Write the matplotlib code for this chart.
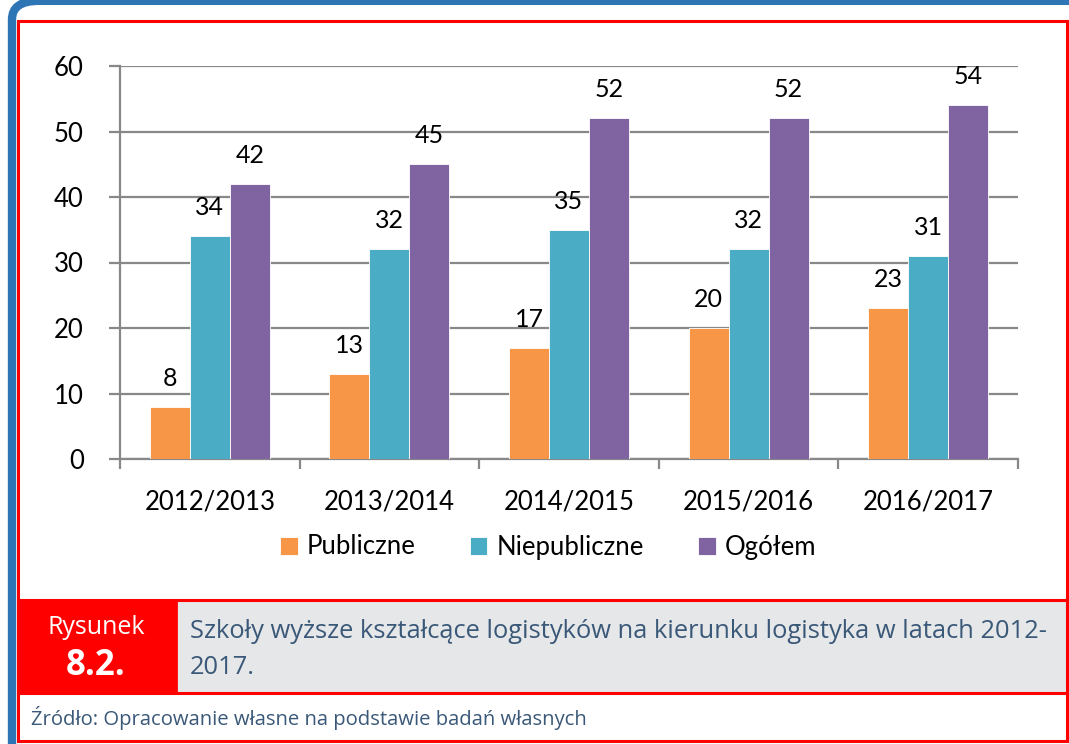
import matplotlib.pyplot as plt
from matplotlib.patches import Rectangle, FancyBboxPatch

years = ["2012/2013", "2013/2014", "2014/2015", "2015/2016", "2016/2017"]
publiczne = [8, 13, 17, 20, 23]
niepubliczne = [34, 32, 35, 32, 31]
ogolem = [42, 45, 52, 52, 54]
series_names = ["Publiczne", "Niepubliczne", "Ogółem"]
colors = ["#F79646", "#4BACC6", "#8064A2"]

W, H = 1069, 744
fig = plt.figure(figsize=(W / 100, H / 100), dpi=100)


def box(x0, y0, x1, y1):
    # pixel coords (top-left origin) -> figure fraction rect
    return [x0 / W, 1 - y1 / H, (x1 - x0) / W, (y1 - y0) / H]


# blue rounded frame
fig.patches.append(FancyBboxPatch((12 / W, -0.05), 1.2, 1.035 - 12 / H + 0.05 - 0.02,
                                  boxstyle="round,pad=0,rounding_size=0.025",
                                  transform=fig.transFigure, fill=False,
                                  edgecolor="#2E75B6", linewidth=6, zorder=0))
# red frame
fig.patches.append(Rectangle((17.5 / W, 1 - 741 / H), (1067 - 17.5) / W, (741 - 21) / H,
                             transform=fig.transFigure, fill=False, edgecolor="#FF0000",
                             linewidth=2.2, zorder=1))

chart_font = "Lato"
cap_font = "Open Sans"

ax = fig.add_axes(box(120, 66, 1018, 459))
n = len(years)
bw = 40 / 179.6
xs = range(n)
for k, (vals, c, name) in enumerate(zip([publiczne, niepubliczne, ogolem], colors, series_names)):
    pos = [i + (k - 1) * bw for i in xs]
    bars = ax.bar(pos, vals, width=bw, color=c, edgecolor="white", linewidth=0.6,
                  label=name, zorder=3)
    for b, v in zip(bars, vals):
        ax.text(b.get_x() + b.get_width() / 2, v + 2.6, str(v), ha="center", va="bottom",
                fontsize=18, family=chart_font)

ax.set_xlim(-0.5, n - 0.5)
ax.set_ylim(0, 60)
ax.set_yticks(range(0, 61, 10))
ax.set_yticklabels([str(v) for v in range(0, 61, 10)], fontsize=18.5, family=chart_font)
ax.yaxis.grid(True, color="#888888", linewidth=1.6, zorder=0)
ax.set_axisbelow(True)
ax.set_xticks([i - 0.5 for i in range(n + 1)], minor=False)
ax.set_xticklabels([""] * (n + 1))
ax.set_xticks(list(xs), minor=True)
ax.set_xticklabels(years, minor=True, fontsize=18.5, family=chart_font)
ax.tick_params(axis="x", which="major", direction="out", length=7, width=1.6, color="#888888")
ax.tick_params(axis="x", which="minor", length=0, pad=22)
ax.tick_params(axis="y", direction="out", length=8, width=1.6, color="#888888", pad=18)
for s in ["top", "right"]:
    ax.spines[s].set_visible(False)
for s in ["left", "bottom"]:
    ax.spines[s].set_color("#888888")
    ax.spines[s].set_linewidth(1.6)

leg = fig.legend(loc="center", bbox_to_anchor=(548 / W, 1 - 547 / H), ncol=3, frameon=False,
                 prop={"family": chart_font, "size": 18.5}, handlelength=0.7, handleheight=0.7,
                 handletextpad=0.35, columnspacing=2.1)

# caption block
fig.patches.append(Rectangle((17.5 / W, 1 - 693 / H), (176 - 17.5) / W, (693 - 600) / H,
                             transform=fig.transFigure, facecolor="#FF0000", edgecolor="none", zorder=2))
fig.patches.append(Rectangle((176 / W, 1 - 693 / H), (1067 - 176) / W, (693 - 600) / H,
                             transform=fig.transFigure, facecolor="#E6E7E9", edgecolor="#FF0000",
                             linewidth=2, zorder=2))
fig.patches.append(Rectangle((17.5 / W, 1 - 693 / H), (1067 - 17.5) / W, (693 - 600) / H,
                             transform=fig.transFigure, fill=False, edgecolor="#FF0000",
                             linewidth=2.2, zorder=3))
fig.text(96 / W, 1 - 628 / H, "Rysunek", color="white", fontsize=18, family=cap_font,
         ha="center", va="center")
fig.text(96 / W, 1 - 666 / H, "8.2.", color="white", fontsize=25, family=cap_font,
         fontweight="bold", ha="center", va="center")
fig.text(190 / W, 1 - 631 / H, "Szkoły wyższe kształcące logistyków na kierunku logistyka w latach 2012-",
         color="#3A5878", fontsize=18.4, family=cap_font, ha="left", va="center")
fig.text(190 / W, 1 - 668 / H, "2017.", color="#3A5878", fontsize=18.4, family=cap_font,
         ha="left", va="center")
fig.text(31 / W, 1 - 718 / H, "Źródło: Opracowanie własne na podstawie badań własnych",
         color="#3A5878", fontsize=14.6, family=cap_font, ha="left", va="center")

fig.savefig("out.png", dpi=100)
